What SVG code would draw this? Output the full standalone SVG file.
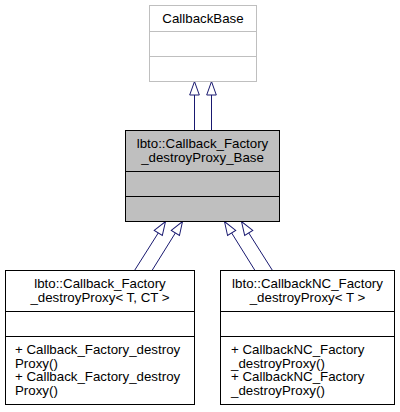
<svg xmlns="http://www.w3.org/2000/svg" width="400" height="412" viewBox="0 0 400 412">
<style>
text{font-family:"Liberation Sans",Arial,sans-serif;font-size:13.3px;fill:#000}
.c{text-anchor:middle}
.box{fill:#fff;stroke:#000;stroke-width:1}
.gray{fill:#bfbfbf;stroke:#000;stroke-width:1}
.faint{fill:#fff;stroke:#bfbfbf;stroke-width:1}
.div{stroke:#000;stroke-width:1}
.fdiv{stroke:#bfbfbf;stroke-width:1}
.edge{fill:none;stroke:#191970;stroke-width:1;marker-end:url(#hollow)}
</style>
<defs>
<marker id="hollow" markerUnits="userSpaceOnUse" markerWidth="16" markerHeight="12" refX="14" refY="6" orient="auto" overflow="visible">
<path d="M0.5,1.2 L14,6 L0.5,10.8 Z" fill="#fff" stroke="#191970" stroke-width="1"/>
</marker>
</defs>
<g id="connectors">
<path class="edge" d="M194.5,130.5 L194.5,81.5"/>
<path class="edge" d="M211.5,130.5 L211.5,81.5"/>
<path class="edge" d="M134.5,270.5 L165.5,221.5"/>
<path class="edge" d="M152,270.5 L182.5,221.5"/>
<path class="edge" d="M255,270.5 L224.5,221.5"/>
<path class="edge" d="M272.5,270.5 L241.5,221.5"/>
</g>
<g id="CallbackBase">
<rect class="faint" x="149.5" y="5.5" width="107" height="76"/>
<line class="fdiv" x1="149.5" y1="31.5" x2="256.5" y2="31.5"/>
<line class="fdiv" x1="149.5" y1="56.5" x2="256.5" y2="56.5"/>
<text class="c" x="203" y="22.5">CallbackBase</text>
</g>
<g id="Callback_Factory_destroyProxy_Base">
<rect class="gray" x="125.5" y="130.5" width="154" height="91"/>
<line class="div" x1="125.5" y1="171.5" x2="279.5" y2="171.5"/>
<line class="div" x1="125.5" y1="196.5" x2="279.5" y2="196.5"/>
<text class="c" x="202.5" y="147.5">lbto::Callback_Factory</text>
<text class="c" x="202.5" y="161.5">_destroyProxy_Base</text>
</g>
<g id="Callback_Factory_destroyProxy">
<rect class="box" x="5.5" y="270.5" width="189" height="134"/>
<line class="div" x1="5.5" y1="311.5" x2="194.5" y2="311.5"/>
<line class="div" x1="5.5" y1="336.5" x2="194.5" y2="336.5"/>
<text class="c" x="100" y="287.5">lbto::Callback_Factory</text>
<text class="c" x="100" y="301.5">_destroyProxy&lt; T, CT &gt;</text>
<text x="15" y="354">+ Callback_Factory_destroy</text>
<text x="15" y="367.5">Proxy()</text>
<text x="15" y="381">+ Callback_Factory_destroy</text>
<text x="15" y="394.5">Proxy()</text>
</g>
<g id="CallbackNC_Factory_destroyProxy">
<rect class="box" x="220.5" y="270.5" width="174" height="134"/>
<line class="div" x1="220.5" y1="311.5" x2="394.5" y2="311.5"/>
<line class="div" x1="220.5" y1="336.5" x2="394.5" y2="336.5"/>
<text class="c" x="307.5" y="287.5">lbto::CallbackNC_Factory</text>
<text class="c" x="307.5" y="301.5">_destroyProxy&lt; T &gt;</text>
<text x="231" y="354">+ CallbackNC_Factory</text>
<text x="231" y="367.5">_destroyProxy()</text>
<text x="231" y="381">+ CallbackNC_Factory</text>
<text x="231" y="394.5">_destroyProxy()</text>
</g>
</svg>
